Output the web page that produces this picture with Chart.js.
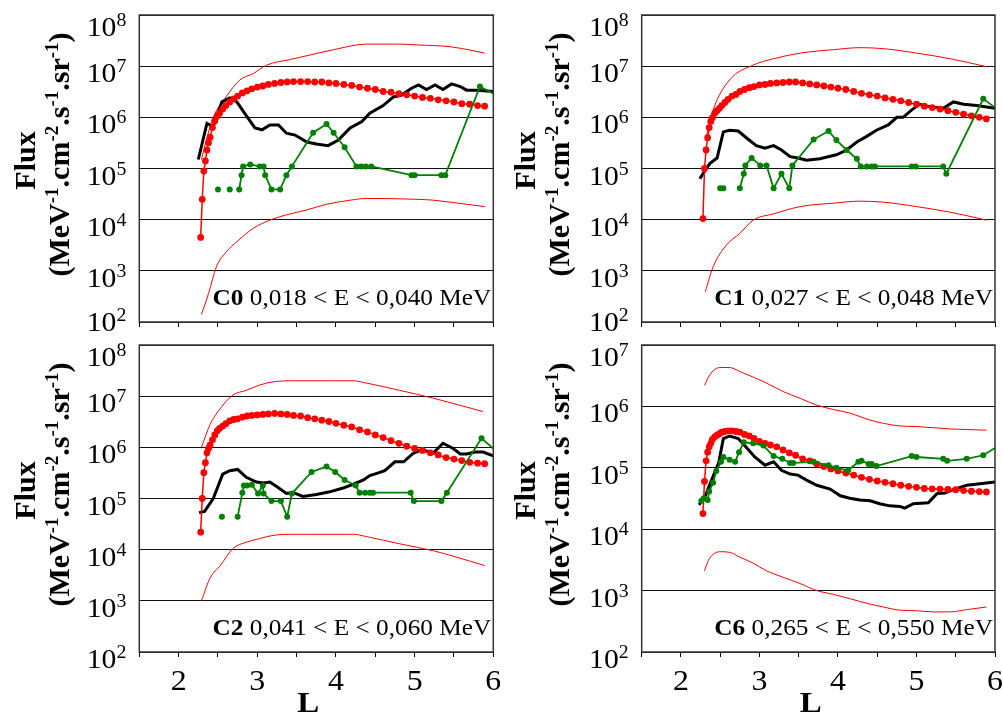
<!DOCTYPE html>
<html>
<head>
<meta charset="utf-8">
<script src="https://cdn.jsdelivr.net/npm/chart.js@4.4.1/dist/chart.umd.min.js"></script>
<style>
  body { margin: 0; background: #fff; }
  #wrap { position: relative; width: 1003px; height: 715px; }
  canvas { position: absolute; }
</style>
</head>
<body>
<div id="wrap">
  <canvas id="c0" width="500" height="335" style="left:0;top:0;width:500px;height:335px"></canvas>
  <canvas id="c1" width="503" height="335" style="left:500px;top:0;width:503px;height:335px"></canvas>
  <canvas id="c2" width="500" height="380" style="left:0;top:335px;width:500px;height:380px"></canvas>
  <canvas id="c6" width="503" height="380" style="left:500px;top:335px;width:503px;height:380px"></canvas>
</div>
<script>
// ---- data (L on x, flux on y) ----
const yTicks8 = [1e2, 1e3, 1e4, 1e5, 1e6, 1e7, 1e8];
const yTicks7 = [1e2, 1e3, 1e4, 1e5, 1e6, 1e7];
const xLabels = [2, 3, 4, 5, 6];

const channels = ['C0', 'C1', 'C2', 'C6'];
const energyRanges = ['0,018 < E < 0,040 MeV', '0,027 < E < 0,048 MeV', '0,041 < E < 0,060 MeV', '0,265 < E < 0,550 MeV'];

// model L grid (red dotted curve), same in every panel
const modelL = [2.28, 2.30, 2.32, 2.34, 2.36, 2.38, 2.40, 2.43, 2.46, 2.49, 2.52, 2.56, 2.60, 2.65, 2.70, 2.75, 2.81, 2.87, 2.93, 3.00,
  3.07, 3.14, 3.22, 3.30, 3.38, 3.46, 3.55, 3.64, 3.73, 3.82, 3.91, 4.00, 4.10, 4.20, 4.30, 4.40, 4.50, 4.60, 4.70, 4.80,
  4.90, 5.00, 5.10, 5.20, 5.30, 5.40, 5.50, 5.60, 5.70, 5.80, 5.89];

// C0
const hiL_c0 = [2.29, 2.36, 2.44, 2.61, 2.78, 2.95, 3.12, 3.42, 3.63, 3.97, 4.39, 4.81, 5.03, 5.45, 5.75, 5.89];
const hi_c0 = [1.5e5, 4.0e5, 1.0e6, 2.6e6, 5.4e6, 7.2e6, 1.05e7, 1.35e7, 1.6e7, 2.1e7, 2.7e7, 2.7e7, 2.6e7, 2.4e7, 2.0e7, 1.8e7];
const loL_c0 = [2.29, 2.38, 2.48, 2.61, 2.74, 2.95, 3.16, 3.42, 3.63, 3.88, 4.18, 4.39, 5.03, 5.24, 5.66, 5.89];
const lo_c0 = [1.4e2, 3.6e2, 1.2e3, 2.4e3, 3.7e3, 6.8e3, 9.8e3, 1.3e4, 1.55e4, 2.0e4, 2.4e4, 2.6e4, 2.5e4, 2.4e4, 2.0e4, 1.8e4];
const model_c0 = [4.5e3, 2.5e4, 8.9e4, 1.4e5, 2.3e5, 3.2e5, 4.1e5, 6.3e5, 8.5e5, 1.05e6, 1.2e6, 1.45e6, 1.7e6, 2.0e6, 2.3e6, 2.6e6, 3.0e6, 3.3e6, 3.6e6, 3.9e6,
  4.1e6, 4.4e6, 4.6e6, 4.8e6, 4.9e6, 5.0e6, 5.0e6, 5.0e6, 4.9e6, 4.9e6, 4.7e6, 4.6e6, 4.4e6, 4.2e6, 3.9e6, 3.7e6, 3.5e6, 3.2e6, 3.1e6, 2.9e6,
  2.75e6, 2.6e6, 2.45e6, 2.35e6, 2.2e6, 2.1e6, 2.0e6, 1.85e6, 1.8e6, 1.7e6, 1.65e6];
const blackL_c0 = [2.25, 2.36, 2.44, 2.55, 2.65, 2.74, 2.84, 2.97, 3.06, 3.16, 3.27, 3.37, 3.48, 3.63, 3.75, 3.90, 4.03, 4.18, 4.33, 4.43,
  4.60, 4.73, 4.83, 4.96, 5.05, 5.15, 5.26, 5.36, 5.47, 5.58, 5.66, 5.79, 6.0];
const black_c0 = [1.5e5, 7.6e5, 6.6e5, 2.0e6, 2.4e6, 2.0e6, 1.2e6, 6.2e5, 5.7e5, 7.1e5, 7.1e5, 4.9e5, 4.5e5, 3.3e5, 3.0e5, 2.8e5, 3.6e5, 6.2e5, 8.3e5, 1.2e6,
  1.7e6, 2.5e6, 2.7e6, 3.7e6, 4.3e6, 3.5e6, 4.3e6, 3.5e6, 4.5e6, 4.0e6, 3.4e6, 3.4e6, 3.2e6];
const greenL_c0 = [2.50, 2.58, 2.65, 2.71, 2.77, 2.80, 2.82, 2.91, 3.03, 3.08, 3.10, 3.18, 3.29, 3.37, 3.44, 3.71, 3.88, 3.97, 4.11, 4.26,
  4.32, 4.38, 4.45, 4.96, 5.00, 5.34, 5.39, 5.83, 6.10];
const green_c0 = [3.9e4, null, 3.9e4, null, 3.9e4, 7.4e4, 1.1e5, 1.2e5, 1.1e5, 1.1e5, 7.4e4, 3.9e4, 3.9e4, 7.4e4, 1.1e5, 5.0e5, 7.4e5, 5.0e5, 2.6e5, 1.1e5,
  1.1e5, 1.1e5, 1.1e5, 7.4e4, 7.4e4, 7.4e4, 7.4e4, 4.0e6, 2.4e6];

// C1
const hiL_c1 = [2.31, 2.41, 2.62, 2.92, 3.18, 3.52, 3.94, 4.28, 4.58, 5.0, 5.43, 5.89];
const hi_c1 = [3.5e5, 1.4e6, 5.4e6, 1.05e7, 1.4e7, 1.8e7, 2.1e7, 2.3e7, 2.2e7, 1.8e7, 1.4e7, 9.8e6];
const loL_c1 = [2.31, 2.41, 2.58, 2.75, 2.92, 3.18, 3.52, 3.94, 4.28, 4.58, 5.0, 5.43, 5.89];
const lo_c1 = [3.9e2, 1.2e3, 3.2e3, 5.4e3, 9.8e3, 1.3e4, 1.8e4, 2.1e4, 2.3e4, 2.2e4, 1.8e4, 1.4e4, 9.8e3];
const model_c1 = [1.05e4, 1.0e5, 2.3e5, 4.0e5, 6.3e5, 8.3e5, 9.8e5, 1.2e6, 1.35e6, 1.5e6, 1.7e6, 1.95e6, 2.25e6, 2.6e6, 2.8e6, 3.2e6, 3.5e6, 3.8e6, 4.0e6, 4.3e6,
  4.4e6, 4.6e6, 4.7e6, 4.8e6, 4.9e6, 4.9e6, 4.7e6, 4.5e6, 4.3e6, 4.1e6, 3.9e6, 3.7e6, 3.5e6, 3.2e6, 2.95e6, 2.75e6, 2.6e6, 2.4e6, 2.25e6, 2.1e6,
  1.95e6, 1.8e6, 1.65e6, 1.55e6, 1.45e6, 1.35e6, 1.25e6, 1.15e6, 1.07e6, 1.0e6, 9.3e5];
const blackL_c1 = [2.24, 2.31, 2.37, 2.46, 2.54, 2.62, 2.73, 2.84, 2.96, 3.07, 3.18, 3.28, 3.39, 3.49, 3.60, 3.77, 3.98, 4.11, 4.24, 4.36,
  4.49, 4.64, 4.75, 4.83, 4.94, 5.04, 5.17, 5.34, 5.47, 5.60, 5.77, 6.0];
const black_c1 = [6.3e4, 9.3e4, 1.26e5, 1.6e5, 5.2e5, 5.6e5, 5.4e5, 3.9e5, 2.8e5, 2.5e5, 2.8e5, 2.3e5, 1.7e5, 1.6e5, 1.45e5, 1.55e5, 1.85e5, 2.3e5, 3.3e5, 4.2e5,
  5.6e5, 7.1e5, 1.0e6, 1.0e6, 1.4e6, 1.8e6, 1.6e6, 1.5e6, 2.0e6, 1.8e6, 1.7e6, 1.5e6];
const greenL_c1 = [2.50, 2.54, 2.64, 2.75, 2.80, 2.82, 2.90, 3.01, 3.09, 3.18, 3.28, 3.38, 3.42, 3.69, 3.88, 3.98, 4.11, 4.24, 4.29, 4.37,
  4.43, 4.47, 4.94, 4.99, 5.34, 5.38, 5.85, 6.10];
const green_c1 = [4.1e4, 4.1e4, null, 4.1e4, 7.9e4, 1.15e5, 1.6e5, 1.15e5, 1.15e5, 4.1e4, 7.9e4, 4.1e4, 1.15e5, 3.7e5, 5.4e5, 3.6e5, 2.3e5, 1.55e5, 1.1e5, 1.1e5,
  1.1e5, 1.1e5, 1.1e5, 1.1e5, 1.1e5, 7.9e4, 2.3e6, 1.2e6];

// C2
const hiL_c2 = [2.29, 2.40, 2.50, 2.69, 2.86, 3.03, 3.20, 3.46, 3.97, 4.22, 4.39, 4.81, 5.24, 5.87];
const hi_c2 = [1.0e6, 2.8e6, 5.0e6, 1.05e7, 1.3e7, 1.65e7, 1.9e7, 2.0e7, 2.0e7, 2.0e7, 1.8e7, 1.3e7, 9.1e6, 5.0e6];
const loL_c2 = [2.29, 2.40, 2.53, 2.69, 2.86, 3.03, 3.20, 3.46, 4.22, 4.39, 4.81, 5.24, 5.89];
const lo_c2 = [1.0e3, 2.8e3, 4.9e3, 1.05e4, 1.4e4, 1.65e4, 1.9e4, 2.0e4, 2.0e4, 1.8e4, 1.3e4, 9.5e3, 4.9e3];
const model_c2 = [2.2e4, 1.0e5, 3.2e5, 5.0e5, 7.8e5, 9.5e5, 1.1e6, 1.4e6, 1.75e6, 2.1e6, 2.35e6, 2.6e6, 2.9e6, 3.3e6, 3.5e6, 3.6e6, 3.9e6, 4.1e6, 4.2e6, 4.3e6,
  4.4e6, 4.5e6, 4.6e6, 4.5e6, 4.4e6, 4.2e6, 4.1e6, 3.8e6, 3.6e6, 3.4e6, 3.2e6, 2.95e6, 2.7e6, 2.5e6, 2.2e6, 2.0e6, 1.75e6, 1.55e6, 1.35e6, 1.2e6,
  1.05e6, 9.5e5, 8.7e5, 7.8e5, 7.1e5, 6.3e5, 5.9e5, 5.5e5, 5.1e5, 4.9e5, 4.8e5];
const blackL_c2 = [2.26, 2.33, 2.44, 2.56, 2.65, 2.75, 2.86, 2.99, 3.08, 3.16, 3.25, 3.37, 3.46, 3.58, 3.75, 3.92, 4.09, 4.22, 4.35, 4.43,
  4.52, 4.62, 4.75, 4.86, 4.98, 5.09, 5.24, 5.36, 5.49, 5.58, 5.66, 5.77, 5.87, 6.0];
const black_c2 = [5.3e4, 5.6e4, 1.0e5, 3.0e5, 3.5e5, 3.7e5, 2.6e5, 2.1e5, 2.0e5, 2.1e5, 1.7e5, 1.26e5, 1.3e5, 1.1e5, 1.2e5, 1.35e5, 1.6e5, 1.9e5, 2.3e5, 2.8e5,
  3.1e5, 3.5e5, 5.2e5, 5.2e5, 7.6e5, 8.9e5, 7.8e5, 1.2e6, 9.5e5, 7.4e5, 7.4e5, 8.1e5, 8.1e5, 6.8e5];
const greenL_c2 = [2.55, 2.65, 2.75, 2.81, 2.83, 2.87, 2.93, 3.01, 3.07, 3.08, 3.18, 3.30, 3.38, 3.44, 3.69, 3.88, 3.99, 4.11, 4.25, 4.30,
  4.37, 4.43, 4.47, 4.95, 4.99, 5.34, 5.41, 5.85, 6.10];
const green_c2 = [4.4e4, null, 4.4e4, 1.3e5, 1.8e5, 1.8e5, 1.85e5, 1.25e5, 1.8e5, 1.25e5, 8.9e4, 8.9e4, 4.4e4, 1.25e5, 3.3e5, 4.2e5, 3.3e5, 2.3e5, 1.8e5, 1.3e5,
  1.3e5, 1.3e5, 1.3e5, 1.3e5, 8.9e4, 8.9e4, 1.3e5, 1.5e6, 7.0e5];

// C6
const hiL_c6 = [2.30, 2.35, 2.41, 2.50, 2.62, 2.75, 2.92, 3.09, 3.30, 3.52, 3.73, 3.94, 4.15, 4.37, 4.58, 4.79, 5.0, 5.21, 5.43, 5.64, 5.89];
const hi_c6 = [2.2e6, 3.0e6, 3.8e6, 4.3e6, 4.3e6, 3.7e6, 3.0e6, 2.4e6, 1.75e6, 1.35e6, 1.05e6, 8.9e5, 7.8e5, 6.2e5, 5.3e5, 4.8e5, 4.7e5, 4.5e5, 4.3e5, 4.2e5, 4.1e5];
const loL_c6 = [2.30, 2.35, 2.41, 2.50, 2.62, 2.75, 2.92, 3.09, 3.30, 3.52, 3.73, 3.94, 4.15, 4.37, 4.58, 4.79, 5.0, 5.21, 5.43, 5.64, 5.89];
const lo_c6 = [2.1e3, 3.1e3, 3.9e3, 4.3e3, 4.2e3, 3.5e3, 2.8e3, 2.1e3, 1.65e3, 1.3e3, 1.0e3, 8.7e2, 7.4e2, 6.2e2, 5.4e2, 4.8e2, 4.7e2, 4.5e2, 4.5e2, 4.9e2, 5.4e2];
const model_c6 = [1.8e4, 6.0e4, 1.3e5, 1.8e5, 2.2e5, 2.5e5, 2.9e5, 3.2e5, 3.4e5, 3.6e5, 3.8e5, 3.9e5, 4.0e5, 4.0e5, 3.9e5, 3.8e5, 3.5e5, 3.3e5, 3.0e5, 2.7e5,
  2.5e5, 2.35e5, 2.2e5, 1.95e5, 1.75e5, 1.6e5, 1.4e5, 1.3e5, 1.15e5, 1.05e5, 9.6e4, 8.9e4, 8.2e4, 7.6e4, 7.0e4, 6.5e4, 6.1e4, 5.8e4, 5.5e4, 5.2e4,
  5.0e4, 4.8e4, 4.6e4, 4.55e4, 4.5e4, 4.45e4, 4.4e4, 4.25e4, 4.15e4, 4.1e4, 4.05e4];
const blackL_c6 = [2.23, 2.31, 2.39, 2.48, 2.54, 2.62, 2.73, 2.84, 2.94, 3.07, 3.18, 3.28, 3.39, 3.49, 3.60, 3.73, 3.90, 4.03, 4.15, 4.28,
  4.41, 4.53, 4.66, 4.79, 4.85, 4.96, 5.15, 5.26, 5.36, 5.47, 5.64, 5.81, 6.0];
const black_c6 = [2.5e4, 3.5e4, 6.3e4, 1.2e5, 3.0e5, 3.3e5, 3.0e5, 2.1e5, 1.5e5, 1.1e5, 1.25e5, 9.1e4, 7.9e4, 7.6e4, 6.3e4, 5.2e4, 4.5e4, 3.5e4, 3.2e4, 3.0e4,
  2.9e4, 2.6e4, 2.4e4, 2.35e4, 2.2e4, 2.6e4, 2.7e4, 3.8e4, 3.9e4, 4.4e4, 5.2e4, 5.5e4, 5.9e4];
const greenL_c6 = [2.26, 2.29, 2.34, 2.36, 2.41, 2.45, 2.51, 2.54, 2.62, 2.69, 2.74, 2.80, 2.92, 3.05, 3.18, 3.29, 3.39, 3.43, 3.69, 3.88,
  3.98, 4.13, 4.26, 4.30, 4.39, 4.43, 4.49, 4.94, 5.0, 5.34, 5.39, 5.64, 5.85, 6.05];
const green_c6 = [2.9e4, 3.2e4, 3.0e4, 4.1e4, 5.7e4, 8.9e4, 1.25e5, 1.5e5, 1.35e5, 1.25e5, 1.8e5, 2.6e5, 2.5e5, 2.3e5, 1.55e5, 1.4e5, 1.2e5, 1.2e5, 1.25e5, 1.1e5,
  1.0e5, 9.1e4, 1.25e5, 1.3e5, 1.15e5, 1.15e5, 1.07e5, 1.55e5, 1.5e5, 1.4e5, 1.3e5, 1.4e5, 1.6e5, 2.3e5];

// ---- drawing helpers ----
const SERIF = "'Liberation Serif', 'Times New Roman', serif";
const SX = 1.1; // the reference text is a little wide

function textW(ctx, str, font) {
  ctx.font = font;
  return ctx.measureText(str).width * SX;
}

function wideText(ctx, str, x, y, font) {
  ctx.save();
  ctx.font = font;
  ctx.textAlign = 'left';
  ctx.textBaseline = 'alphabetic';
  ctx.translate(x, y);
  ctx.scale(SX, 1);
  ctx.fillText(str, 0, 0);
  ctx.restore();
}

// rotated axis title with superscripts
function rotatedRich(ctx, parts, baseX, centerY) {
  const big = 'bold 30px ' + SERIF, small = 'bold 19px ' + SERIF;
  let total = 0;
  parts.forEach(p => { ctx.font = p[1] ? small : big; total += ctx.measureText(p[0]).width; });
  ctx.save();
  ctx.translate(baseX, centerY);
  ctx.rotate(-Math.PI / 2);
  ctx.textAlign = 'left';
  ctx.textBaseline = 'alphabetic';
  let x = -total / 2;
  parts.forEach(p => {
    ctx.font = p[1] ? small : big;
    ctx.fillText(p[0], x, p[1] ? -11 : 0);
    x += ctx.measureText(p[0]).width;
  });
  ctx.restore();
}

const panelText = {
  id: 'panelText',
  afterDraw(chart, args, o) {
    const ctx = chart.ctx, a = chart.chartArea;
    const ys = chart.scales.y, xs = chart.scales.x;
    ctx.save();
    ctx.fillStyle = '#000';

    // plot frame
    ctx.strokeStyle = '#333';
    ctx.lineWidth = 1.5;
    ctx.strokeRect(a.left, a.top, a.right - a.left, a.bottom - a.top);

    // y tick labels 10^n
    const big = '27px ' + SERIF, sup = '18px ' + SERIF;
    o.yTicks.forEach((v, i) => {
      const py = ys.getPixelForValue(v);
      let off = 7;
      if (i === o.yTicks.length - 1) off = 12;
      if (i === 0 && o.topRow) off = 0;
      const base = py + off + 9;
      const e = String(Math.round(Math.log10(v)));
      const w1 = textW(ctx, '10', big), w2 = textW(ctx, e, sup);
      const right = a.left - 13;
      wideText(ctx, '10', right - w1 - w2, base, big);
      wideText(ctx, e, right - w2, base - 10, sup);
    });

    // y axis title
    const cy = (a.top + a.bottom) / 2;
    rotatedRich(ctx, [['Flux', 0]], 35, cy - 8);
    rotatedRich(ctx, [['(MeV', 0], ['-1', 1], ['.cm', 0], ['-2', 1], ['.s', 0], ['-1', 1], ['.sr', 0], ['-1', 1], [')', 0]], 69, cy - 14);

    // channel / energy note
    const fb = 'bold 23px ' + SERIF, fr = '23px ' + SERIF;
    const rest = ' ' + o.range;
    const wb = textW(ctx, o.name, fb), wr = textW(ctx, rest, fr);
    const nb = a.bottom - 17;
    wideText(ctx, o.name, a.right - 2 - wr - wb, nb, fb);
    wideText(ctx, rest, a.right - 2 - wr, nb, fr);

    // x labels on the bottom row
    if (!o.topRow) {
      const fx = '29px ' + SERIF;
      xLabels.forEach(v => {
        const px = xs.getPixelForValue(v);
        const w = textW(ctx, String(v), fx);
        wideText(ctx, String(v), px - w / 2, a.bottom + 38, fx);
      });
      const fl = 'bold 30px ' + SERIF;
      const wl = textW(ctx, 'L', fl);
      wideText(ctx, 'L', a.left + 169 - wl / 2, a.bottom + 60, fl);
    }
    ctx.restore();
  }
};

function pts(xs, ys) {
  return xs.map((x, i) => ({ x: x, y: ys[i] }));
}

function makePanel(id, p) {
  new Chart(document.getElementById(id), {
    type: 'line',
    data: {
      datasets: [
        { data: pts(p.greenL, p.green), borderColor: '#008000', backgroundColor: '#008000', borderWidth: 1.8,
          pointRadius: 3, pointBorderWidth: 0, pointBackgroundColor: '#008000' },
        { data: pts(modelL, p.model), borderColor: '#ff0000', backgroundColor: '#ff0000', borderWidth: 1.5,
          pointRadius: 3.4, pointBorderWidth: 0, pointBackgroundColor: '#ff0000' },
        { data: pts(p.blackL, p.black), borderColor: '#000', borderWidth: 3, pointRadius: 0 },
        { data: pts(p.hiL, p.hi), borderColor: '#ff0000', borderWidth: 1, pointRadius: 0, cubicInterpolationMode: 'monotone' },
        { data: pts(p.loL, p.lo), borderColor: '#ff0000', borderWidth: 1, pointRadius: 0, cubicInterpolationMode: 'monotone' }
      ]
    },
    options: {
      responsive: false,
      animation: false,
      devicePixelRatio: 1,
      spanGaps: false,
      layout: { padding: { left: 0, top: p.padTop, right: p.padRight, bottom: 0 } },
      plugins: { legend: { display: false }, tooltip: { enabled: false }, panelText: p },
      scales: {
        x: {
          type: 'linear', min: 1.5, max: 6,
          ticks: { stepSize: 0.5, display: false },
          grid: { drawOnChartArea: false, drawTicks: true, tickLength: 5, color: '#000', lineWidth: 1 },
          border: { display: false },
          afterFit: s => { s.height = p.xh; }
        },
        y: {
          type: 'logarithmic', min: p.yTicks[0], max: p.yTicks[p.yTicks.length - 1],
          afterBuildTicks: s => { s.ticks = p.yTicks.map(v => ({ value: v })); },
          ticks: { display: false },
          grid: { color: '#111', lineWidth: 1, drawTicks: false },
          border: { display: false },
          afterFit: s => { s.width = p.yw; }
        }
      }
    },
    plugins: [panelText]
  });
}

makePanel('c0', { name: channels[0], range: energyRanges[0], yTicks: yTicks8, topRow: true,
  padTop: 15, padRight: 6.7, yw: 139.3, xh: 13,
  hiL: hiL_c0, hi: hi_c0, loL: loL_c0, lo: lo_c0, model: model_c0,
  blackL: blackL_c0, black: black_c0, greenL: greenL_c0, green: green_c0 });

makePanel('c1', { name: channels[1], range: energyRanges[1], yTicks: yTicks8, topRow: true,
  padTop: 15, padRight: 8, yw: 141.7, xh: 13,
  hiL: hiL_c1, hi: hi_c1, loL: loL_c1, lo: lo_c1, model: model_c1,
  blackL: blackL_c1, black: black_c1, greenL: greenL_c1, green: green_c1 });

makePanel('c2', { name: channels[2], range: energyRanges[2], yTicks: yTicks8, topRow: false,
  padTop: 10, padRight: 6.7, yw: 139.3, xh: 63,
  hiL: hiL_c2, hi: hi_c2, loL: loL_c2, lo: lo_c2, model: model_c2,
  blackL: blackL_c2, black: black_c2, greenL: greenL_c2, green: green_c2 });

makePanel('c6', { name: channels[3], range: energyRanges[3], yTicks: yTicks7, topRow: false,
  padTop: 10, padRight: 8, yw: 141.7, xh: 63,
  hiL: hiL_c6, hi: hi_c6, loL: loL_c6, lo: lo_c6, model: model_c6,
  blackL: blackL_c6, black: black_c6, greenL: greenL_c6, green: green_c6 });
</script>
</body>
</html>
